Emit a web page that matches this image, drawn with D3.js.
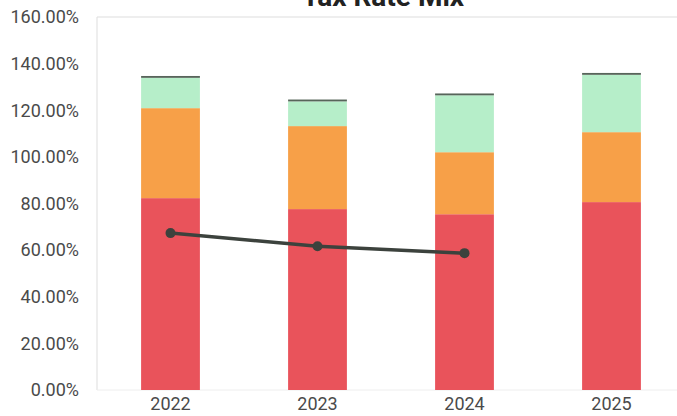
<!DOCTYPE html>
<html><head><meta charset="utf-8">
<script src="https://cdn.jsdelivr.net/npm/d3@7"></script>
<style>body{margin:0;background:#fff;} svg{display:block;font-family:Roboto,"Noto Sans",sans-serif;}</style>
</head><body>
<script>
const years = ["2022","2023","2024","2025"];
const redVals = [82.3, 77.6, 75.4, 80.6];
const orangeVals = [38.6, 35.6, 26.6, 30.0];
const greenVals = [13.0, 10.6, 24.4, 24.6];
const topVals = [0.8, 0.8, 0.8, 0.8];
const lineVals = [67.3, 61.7, 58.7, null];
const yTicks = [0,20,40,60,80,100,120,140,160];
const seriesNames = ["red","orange","green","top"];
const seriesColors = ["#e9535b","#f7a048","#b6eec9","#57655a"];

const W = 677, H = 416;
const svg = d3.select("body").append("svg").attr("width",W).attr("height",H);
const x = d3.scaleBand().domain(years).range([97,685]).paddingInner(0.6).paddingOuter(0.3);
const y = d3.scaleLinear().domain([0,160]).range([390,17]);

// frame
svg.append("line").attr("x1",97).attr("x2",W).attr("y1",17).attr("y2",17).attr("stroke","#ddd");
svg.append("line").attr("x1",97).attr("x2",97).attr("y1",17).attr("y2",y(0)).attr("stroke","#ddd");
svg.append("line").attr("x1",97).attr("x2",W).attr("y1",y(0)).attr("y2",y(0)).attr("stroke","#eee");

const rows = years.map((yr,i)=>({year:yr, red:redVals[i], orange:orangeVals[i], green:greenVals[i], top:topVals[i]}));
const stack = d3.stack().keys(seriesNames)(rows);
stack.forEach((s,si)=>{
  svg.append("g").selectAll("rect").data(s).join("rect")
    .attr("x",d=>x(d.data.year)).attr("width",x.bandwidth())
    .attr("y",d=>y(d[1])).attr("height",d=>y(d[0])-y(d[1]))
    .attr("fill",seriesColors[si]);
});

// y axis labels
const yAxis = d3.axisLeft(y).tickValues(yTicks).tickFormat(d=>d.toFixed(2)+"%").tickSize(0).tickPadding(0);
const ga = svg.append("g").attr("transform","translate(79,0)").call(yAxis);
ga.select(".domain").remove();
ga.selectAll("text").attr("font-size",18).attr("fill","#4a4a4a").attr("font-family","Roboto,sans-serif");

const xAxis = d3.axisBottom(x).tickSize(0).tickPadding(0);
const gx = svg.append("g").attr("transform","translate(0,397)").call(xAxis);
gx.select(".domain").remove();
gx.selectAll("text").attr("font-size",18).attr("fill","#4a4a4a").attr("font-family","Roboto,sans-serif");

// line
const pts = years.map((yr,i)=>({year:yr,v:lineVals[i]})).filter(d=>d.v!=null);
svg.append("path").datum(pts)
  .attr("d",d3.line().x(d=>x(d.year)+x.bandwidth()/2).y(d=>y(d.v)))
  .attr("fill","none").attr("stroke","#3c423d").attr("stroke-width",3.5);
svg.append("g").selectAll("circle").data(pts).join("circle")
  .attr("cx",d=>x(d.year)+x.bandwidth()/2).attr("cy",d=>y(d.v)).attr("r",5).attr("fill","#3c423d");

// title
svg.append("text").attr("x",383).attr("y",6).attr("text-anchor","middle")
  .attr("font-size",28).attr("font-weight","bold").attr("fill","#222").text("Tax Rate Mix");
</script>
</body></html>
